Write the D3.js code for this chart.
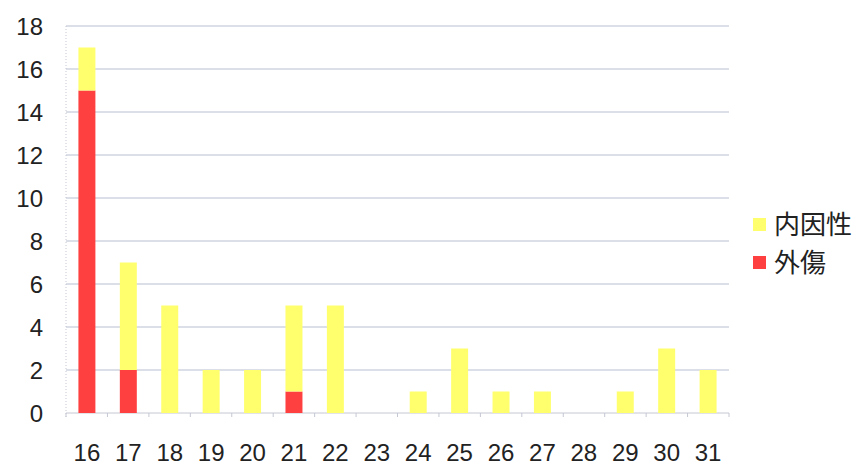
<!DOCTYPE html>
<html>
<head>
<meta charset="utf-8">
<script src="https://cdn.jsdelivr.net/npm/d3@7"></script>
<style>
  body { margin: 0; background: #fff; }
  svg text { font-family: "Liberation Sans", Arial, "Noto Sans CJK JP", sans-serif; fill: #222; }
</style>
</head>
<body>
<div id="chart"></div>
<script>
const days = ['16', '17', '18', '19', '20', '21', '22', '23', '24', '25', '26', '27', '28', '29', '30', '31'];
const trauma = [15, 2, 0, 0, 0, 1, 0, 0, 0, 0, 0, 0, 0, 0, 0, 0];      // 外傷
const internal = [2, 5, 5, 2, 2, 4, 5, 0, 1, 3, 1, 1, 0, 1, 3, 2];     // 内因性
const yTicks = [0, 2, 4, 6, 8, 10, 12, 14, 16, 18];
const seriesNames = ['外傷', '内因性'];
const seriesColors = ['#ff4040', '#ffff6e'];

const width = 858, height = 468;
const margin = {top: 26, right: 129, bottom: 55, left: 66};

const svg = d3.select('#chart').append('svg')
    .attr('width', width).attr('height', height);

const x = d3.scaleBand().domain(days)
    .range([margin.left, width - margin.right])
    .paddingInner(0.59).paddingOuter(0.3);
const y = d3.scaleLinear().domain([0, 18])
    .range([height - margin.bottom, margin.top]);

// grid
svg.append('g').selectAll('line').data(yTicks.slice(1)).enter()
    .append('line')
    .attr('x1', margin.left).attr('x2', width - margin.right)
    .attr('y1', d => y(d)).attr('y2', d => y(d))
    .attr('stroke', '#b8bfcf').attr('stroke-width', 1);

// left axis (dotted)
svg.append('line')
    .attr('x1', margin.left).attr('x2', margin.left)
    .attr('y1', y(18)).attr('y2', y(0) + 6)
    .attr('stroke', '#c4c8d4').attr('stroke-dasharray', '1,2');

// bottom axis
svg.append('line')
    .attr('x1', margin.left).attr('x2', width - margin.right)
    .attr('y1', y(0)).attr('y2', y(0))
    .attr('stroke', '#c4c8d4');
svg.append('g').selectAll('line').data(d3.range(days.length + 1)).enter()
    .append('line')
    .attr('x1', i => margin.left + i * (width - margin.left - margin.right) / days.length)
    .attr('x2', i => margin.left + i * (width - margin.left - margin.right) / days.length)
    .attr('y1', y(0)).attr('y2', y(0) + 4)
    .attr('stroke', '#c4c8d4');

// y labels
svg.append('g').selectAll('text').data(yTicks).enter()
    .append('text')
    .attr('x', 43).attr('y', d => y(d))
    .attr('dy', '0.36em')
    .attr('text-anchor', 'end')
    .attr('font-size', 24)
    .text(d => d);

// x labels
svg.append('g').selectAll('text').data(days).enter()
    .append('text')
    .attr('x', d => x(d) + x.bandwidth() / 2)
    .attr('y', 461)
    .attr('text-anchor', 'middle')
    .attr('font-size', 24)
    .text(d => d);

// stacked bars
const rows = days.map((d, i) => ({day: d, '外傷': trauma[i], '内因性': internal[i]}));
const stacked = d3.stack().keys(seriesNames)(rows);
svg.append('g').selectAll('g').data(stacked).enter()
    .append('g')
    .attr('fill', (d, i) => seriesColors[i])
    .selectAll('rect').data(d => d.filter(v => v[1] > v[0])).enter()
    .append('rect')
    .attr('x', d => x(d.data.day))
    .attr('width', x.bandwidth())
    .attr('y', d => y(d[1]))
    .attr('height', d => y(d[0]) - y(d[1]));

// legend
const legendItems = [{name: '内因性', color: seriesColors[1]}, {name: '外傷', color: seriesColors[0]}];
const legend = svg.append('g').attr('transform', 'translate(753,225)');
legendItems.forEach((item, i) => {
    const g = legend.append('g').attr('transform', 'translate(0,' + i * 38 + ')');
    g.append('rect').attr('x', 0).attr('y', -7).attr('width', 13).attr('height', 13).attr('fill', item.color);
    g.append('text').attr('x', 21).attr('y', 0).attr('dy', '0.36em')
        .attr('font-size', 26)
        .attr('font-family', '"Noto Sans CJK JP", sans-serif')
        .text(item.name);
});
</script>
</body>
</html>
